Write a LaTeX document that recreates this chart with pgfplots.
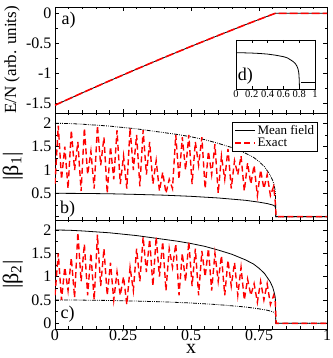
\documentclass[border=0pt]{standalone}
\usepackage{fontspec}
\setmainfont{Liberation Serif}
\usepackage{pgfplots}
\pgfplotsset{compat=1.18}
\usepackage{pgfplotstable}

\pgfplotstableread{
x b1 b2
0 0.7 0.6
0.012 1.95 1.5
0.024 0.8 0.5
0.036 1.5 1.2
0.048 0.6 0.7
0.06 1.85 1.4
0.072 1.0 0.55
0.084 1.6 1.95
0.096 0.55 0.9
0.108 1.9 1.7
0.12 0.9 0.6
0.132 1.4 1.5
0.144 0.6 0.5
0.156 1.95 1.9
0.168 1.1 0.8
0.18 1.7 1.6
0.192 0.5 0.6
0.204 1.5 1.3
0.216 0.8 0.5
0.228 1.85 1.1
0.24 0.7 0.6
0.252 1.3 1.0
0.264 0.6 0.4
0.276 1.9 1.2
0.288 1.0 0.7
0.3 1.75 1.6
0.312 0.65 0.9
0.324 1.85 1.85
0.336 0.9 1.1
0.348 1.6 1.8
0.36 0.7 0.8
0.372 1.2 1.85
0.384 0.55 1.0
0.396 0.95 1.75
0.408 0.5 0.7
0.42 0.8 1.6
0.432 0.6 1.2
0.444 1.75 1.7
0.456 0.8 0.6
0.468 1.7 1.5
0.48 1.0 0.9
0.492 1.75 1.75
0.504 0.7 0.8
0.516 1.6 1.6
0.528 1.1 0.6
0.54 1.7 1.55
0.552 0.6 1.0
0.564 1.4 1.6
0.576 0.9 0.7
0.588 1.55 1.5
0.6 0.5 0.9
0.612 1.3 1.45
0.624 0.8 0.6
0.636 1.45 1.35
0.648 0.6 0.8
0.66 1.2 1.3
0.672 0.9 0.6
0.684 1.3 1.2
0.696 0.55 0.5
0.708 1.15 0.95
0.72 0.7 0.6
0.732 1.1 0.85
0.744 0.45 0.45
0.756 1.0 0.9
0.768 0.6 0.5
0.78 0.9 0.85
0.792 0.45 0.4
0.804 0.65 0.6
0.81 0.3 0.45
0.813 0 0
1 0 0
}\exacttab

\pgfplotstableread{
x y
0 2.0
0.05 1.995
0.1 1.98
0.15 1.96
0.2 1.94
0.25 1.91
0.3 1.88
0.35 1.84
0.4 1.80
0.45 1.76
0.5 1.71
0.55 1.65
0.6 1.57
0.65 1.48
0.7 1.36
0.73 1.27
0.75 1.18
0.77 1.07
0.79 0.90
0.80 0.78
0.805 0.68
0.81 0.55
0.812 0
1 0
}\uppertab

\pgfplotstableread{
x y
0 0.5
0.1 0.497
0.2 0.49
0.3 0.476
0.4 0.46
0.5 0.435
0.6 0.40
0.65 0.375
0.7 0.35
0.75 0.31
0.78 0.28
0.8 0.25
0.81 0.22
0.812 0
1 0
}\lowertab

\pgfplotstableread{
x y
0 -1.53
0.1 -1.325
0.2 -1.125
0.3 -0.929
0.4 -0.738
0.5 -0.551
0.6 -0.369
0.7 -0.190
0.75 -0.103
0.78 -0.051
0.81 0
1 0
}\energytab

\begin{document}
\begin{tikzpicture}
\useasboundingbox (-55pt,-29pt) rectangle (277pt,329pt);
\pgfplotsset{
  panel/.style={
    scale only axis, width=272pt,
    xmin=0, xmax=1,
    axis line style={line width=0.8pt},
    tick style={black, line width=0.6pt},
    major tick length=4pt, minor tick length=2.5pt,
    tick align=inside,
    xtick={0,0.25,0.5,0.75,1},
    minor x tick num=4, minor y tick num=1,
    ticklabel style={font=\fontsize{16}{17}\selectfont},
    xticklabel style={inner sep=1pt},
    ylabel style={at={(axis description cs:-0.155,0.5)}, anchor=center},
    clip=true,
  },
  mf/.style={black, line width=0.8pt},
  ex/.style={red, line width=1.4pt, dash pattern=on 6pt off 3.5pt},
  dd/.style={black, line width=0.8pt, dash pattern=on 4pt off 1.2pt on 0.8pt off 1.2pt on 0.8pt off 1.2pt},
}
% panel a
\begin{axis}[panel, name=a, at={(0,216pt)}, anchor=south west, height=106pt,
  ymin=-1.66, ymax=0.105,
  ytick={-1.5,-1,-0.5,0}, yticklabels={-1.5,-1,-0.5,0},
  xticklabels={},
  ylabel={E/N (arb. units)},
  ylabel style={font=\fontsize{17}{18}\selectfont, at={(axis description cs:-0.158,0.5)}}]
\addplot[mf] table[x=x,y=y] {\energytab};
\addplot[red, line width=1.6pt, dash pattern=on 8pt off 3pt] table[x=x,y=y] {\energytab};
\node[font=\fontsize{18}{20}\selectfont] at (rel axis cs:0.05,0.873) {a)};
\end{axis}
% inset d
\begin{axis}[scale only axis, at={(181pt,240pt)}, anchor=south west,
  width=79pt, height=49pt, xmin=0, xmax=1, ymin=0, ymax=1,
  axis background/.style={fill=white},
  axis line style={line width=0.7pt},
  tick style={black, line width=0.5pt}, major tick length=3pt,
  tick align=inside,
  xtick={0,0.2,0.4,0.6,0.8,1}, xticklabels={0,0.2,0.4,0.6,0.8,1},
  ytick=\empty,
  xticklabel style={font=\fontsize{10.5}{11}\selectfont, inner sep=1pt}]
\addplot[black, line width=0.8pt] coordinates {(0,0.741) (0.1,0.738) (0.2,0.733) (0.3,0.725) (0.4,0.712) (0.5,0.69) (0.6,0.66) (0.65,0.635) (0.7,0.585) (0.725,0.558) (0.75,0.52) (0.77,0.47) (0.785,0.41) (0.795,0.33) (0.8,0.2) (0.803,0.05)};
\addplot[black, line width=0.8pt] coordinates {(0.82,0.129) (1,0.129)};
\node[font=\fontsize{18}{20}\selectfont] at (rel axis cs:0.12,0.265) {d)};
\end{axis}
% panel b
\begin{axis}[panel, name=b, at={(0,109pt)}, anchor=south west, height=107pt,
  ymin=-0.072, ymax=2.22,
  ytick={0,0.5,1,1.5,2}, yticklabels={{},0.5,1,1.5,2},
  xticklabels={},
  ylabel={|β\textsubscript{1}|},
  ylabel style={font=\fontsize{22}{24}\selectfont},
  legend style={at={(0.967,0.919)}, anchor=north east, draw=black, line width=0.6pt,
    font=\fontsize{13}{14}\selectfont, inner sep=1.5pt, row sep=-2pt},
  legend cell align=left,
  legend image code/.code={\draw[#1] (0pt,0pt) -- (20pt,0pt);}]
\addplot[mf] table[x=x,y=y] {\lowertab};
\addlegendentry{Mean field}
\addplot[dd, forget plot] table[x=x,y=y] {\uppertab};
\addplot[ex] table[x=x,y=b1] {\exacttab};
\addlegendentry{Exact}
\node[font=\fontsize{18}{20}\selectfont] at (rel axis cs:0.046,0.103) {b)};
\end{axis}
% panel c
\begin{axis}[panel, name=c, at={(0,0)}, anchor=south west, height=109pt,
  ymin=-0.122, ymax=2.214,
  ytick={0,0.5,1,1.5,2}, yticklabels={0,0.5,1,1.5,2},
  xticklabels={0,0.25,0.5,0.75,1},
  ylabel={|β\textsubscript{2}|},
  ylabel style={font=\fontsize{22}{24}\selectfont},
  xlabel={x},
  xlabel style={font=\fontsize{20}{21}\selectfont, at={(axis description cs:0.5,0)}, anchor=base, yshift=-24.5pt, inner sep=0pt}]
\addplot[mf] table[x=x,y=y] {\uppertab};
\addplot[dd] table[x=x,y=y] {\lowertab};
\addplot[ex] table[x=x,y=b2] {\exacttab};
\node[font=\fontsize{18}{20}\selectfont] at (rel axis cs:0.046,0.138) {c)};
\end{axis}
\end{tikzpicture}
\end{document}
